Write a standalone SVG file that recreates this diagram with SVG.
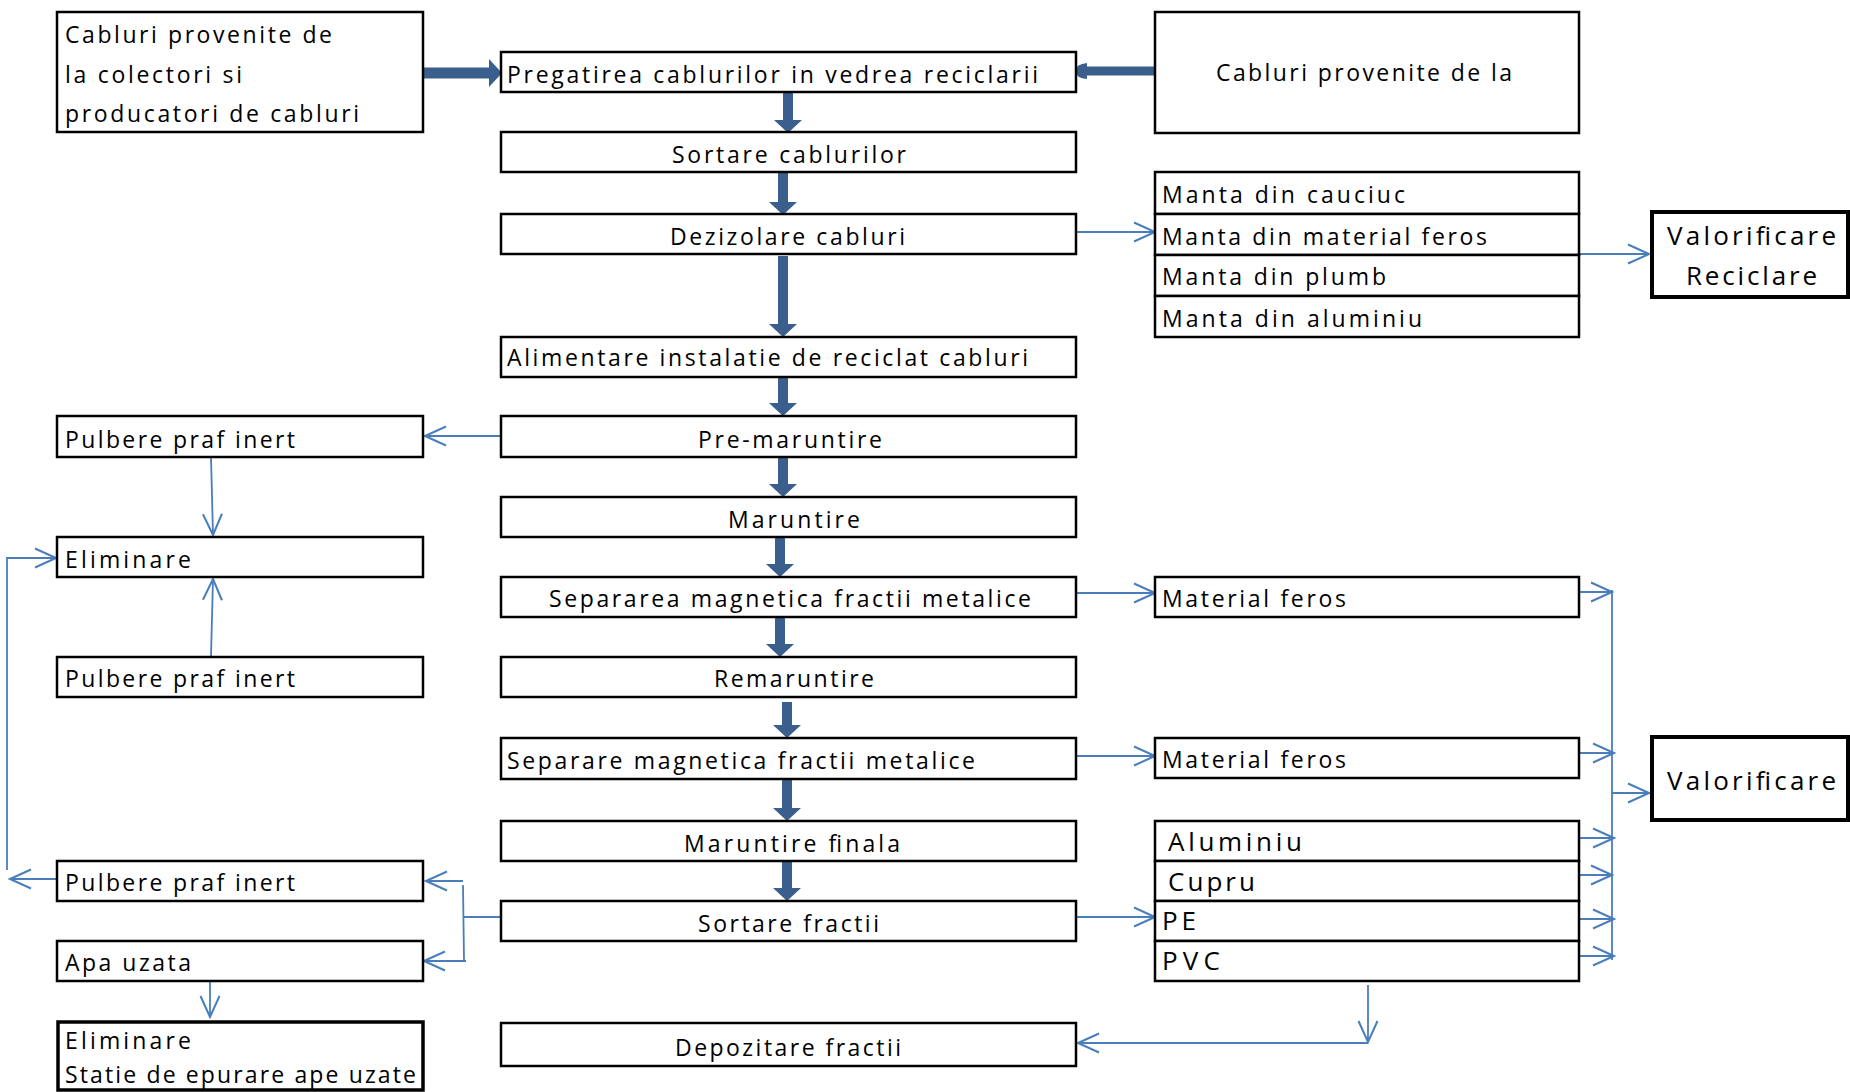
<svg xmlns="http://www.w3.org/2000/svg" width="1850" height="1092" viewBox="0 0 1850 1092">
<style>
.box{fill:#fff;stroke:#000;stroke-width:2.5}
.bold{fill:#fff;stroke:#000;stroke-width:4}
.thk{fill:#fff;stroke:#000;stroke-width:3.5}
.t{font-family:"Open Sans","Liberation Sans",sans-serif;font-size:23px;fill:#000}
.tl{font-family:"Open Sans","Liberation Sans",sans-serif;font-size:26px;fill:#000}
.thin{fill:none;stroke:#4A7EBB;stroke-width:1.8}
.fat{fill:none;stroke:#3A5F8D;stroke-width:10}
</style>
<defs>
<marker id="open" markerUnits="userSpaceOnUse" viewBox="0 0 24 22" markerWidth="24" markerHeight="22" refX="22" refY="11" orient="auto">
<path d="M1,1.5 L22,11 L1,20.5" fill="none" stroke="#4A7EBB" stroke-width="2"/>
</marker>
<marker id="fathead" markerUnits="userSpaceOnUse" viewBox="0 0 13 28" markerWidth="13" markerHeight="28" refX="0" refY="14" orient="auto">
<path d="M0,0 L13,14 L0,28 Z" fill="#3A5F8D"/>
</marker>
</defs>
<rect width="1850" height="1092" fill="#fff"/>

<g id="connectors">
<line class="fat" x1="422" y1="73" x2="489" y2="73" style="stroke-width:11" marker-end="url(#fathead)"/>
<line x1="1156" y1="71" x2="1086" y2="71" stroke="#3A5F8D" stroke-width="9" stroke-linecap="round"/>
<path d="M1087,63 Q1076,64 1075,71 Q1076,78 1087,79 Z" fill="#3A5F8D"/>
<line class="fat" x1="788" y1="92" x2="788" y2="120" marker-end="url(#fathead)"/>
<line class="fat" x1="783" y1="172" x2="783" y2="202" marker-end="url(#fathead)"/>
<line class="fat" x1="783" y1="256" x2="783" y2="324" marker-end="url(#fathead)"/>
<line class="fat" x1="783" y1="377" x2="783" y2="403" marker-end="url(#fathead)"/>
<line class="fat" x1="783" y1="457" x2="783" y2="484" marker-end="url(#fathead)"/>
<line class="fat" x1="780" y1="537" x2="780" y2="564" marker-end="url(#fathead)"/>
<line class="fat" x1="780" y1="617" x2="780" y2="644" marker-end="url(#fathead)"/>
<line class="fat" x1="787" y1="702" x2="787" y2="725" marker-end="url(#fathead)"/>
<line class="fat" x1="787" y1="779" x2="787" y2="808" marker-end="url(#fathead)"/>
<line class="fat" x1="787" y1="861" x2="787" y2="888" marker-end="url(#fathead)"/>

<line class="thin" x1="1076" y1="232" x2="1155" y2="232" marker-end="url(#open)"/>
<line class="thin" x1="1579" y1="254" x2="1649" y2="254" marker-end="url(#open)"/>
<line class="thin" x1="501" y1="436" x2="425" y2="436" marker-end="url(#open)"/>
<line class="thin" x1="211" y1="457" x2="213" y2="535" marker-end="url(#open)"/>
<line class="thin" x1="211" y1="656" x2="213" y2="579" marker-end="url(#open)"/>
<line class="thin" x1="57" y1="879" x2="10" y2="879" marker-end="url(#open)"/>
<polyline class="thin" points="7,870 7,558 56,558" marker-end="url(#open)"/>
<line class="thin" x1="503" y1="917" x2="463" y2="917"/>
<line class="thin" x1="463" y1="885" x2="464" y2="961"/>
<line class="thin" x1="463" y1="881" x2="426" y2="881" marker-end="url(#open)"/>
<line class="thin" x1="466" y1="961" x2="424" y2="961" marker-end="url(#open)"/>
<line class="thin" x1="210" y1="981" x2="210" y2="1017" marker-end="url(#open)"/>
<line class="thin" x1="1076" y1="593" x2="1155" y2="593" marker-end="url(#open)"/>
<line class="thin" x1="1076" y1="756" x2="1155" y2="756" marker-end="url(#open)"/>
<line class="thin" x1="1076" y1="917" x2="1155" y2="917" marker-end="url(#open)"/>
<line class="thin" x1="1575" y1="592" x2="1612" y2="592" marker-end="url(#open)"/>
<line class="thin" x1="1612" y1="590" x2="1612" y2="960"/>
<line class="thin" x1="1579" y1="753" x2="1614" y2="753" marker-end="url(#open)"/>
<line class="thin" x1="1612" y1="793" x2="1649" y2="793" marker-end="url(#open)"/>
<line class="thin" x1="1579" y1="838" x2="1614" y2="838" marker-end="url(#open)"/>
<line class="thin" x1="1577" y1="875" x2="1612" y2="875" marker-end="url(#open)"/>
<line class="thin" x1="1579" y1="919" x2="1614" y2="919" marker-end="url(#open)"/>
<line class="thin" x1="1579" y1="956" x2="1614" y2="956" marker-end="url(#open)"/>
<line class="thin" x1="1368" y1="985" x2="1368" y2="1042" marker-end="url(#open)"/>
<line class="thin" x1="1368" y1="1043" x2="1078" y2="1043" marker-end="url(#open)"/>
</g>

<g id="src-colectori">
<rect class="box" x="57" y="12" width="366" height="120"/>
<text class="t" x="65" y="43" textLength="267" lengthAdjust="spacing">Cabluri provenite de</text>
<text class="t" x="65" y="83" textLength="177" lengthAdjust="spacing">la colectori si</text>
<text class="t" x="65" y="122" textLength="294" lengthAdjust="spacing">producatori de cabluri</text>
</g>
<g id="pregatirea">
<rect class="box" x="501" y="52" width="575" height="40"/>
<text class="t" x="507" y="83" textLength="531" lengthAdjust="spacing">Pregatirea cablurilor in vedrea reciclarii</text>
</g>
<g id="src-la">
<rect class="box" x="1155" y="12" width="424" height="121"/>
<text class="t" x="1216" y="81" textLength="296" lengthAdjust="spacing">Cabluri provenite de la</text>
</g>
<g id="sortare-cablurilor">
<rect class="box" x="501" y="132" width="575" height="40"/>
<text class="t" x="672" y="163" textLength="234" lengthAdjust="spacing">Sortare cablurilor</text>
</g>
<g id="dezizolare">
<rect class="box" x="501" y="214" width="575" height="40"/>
<text class="t" x="670" y="245" textLength="235" lengthAdjust="spacing">Dezizolare cabluri</text>
</g>
<g id="manta">
<rect class="box" x="1155" y="172" width="424" height="42"/>
<rect class="box" x="1155" y="214" width="424" height="41"/>
<rect class="box" x="1155" y="255" width="424" height="41"/>
<rect class="box" x="1155" y="296" width="424" height="41"/>
<text class="t" x="1162" y="203" textLength="243" lengthAdjust="spacing">Manta din cauciuc</text>
<text class="t" x="1162" y="245" textLength="325" lengthAdjust="spacing">Manta din material feros</text>
<text class="t" x="1162" y="285" textLength="224" lengthAdjust="spacing">Manta din plumb</text>
<text class="t" x="1162" y="327" textLength="260" lengthAdjust="spacing">Manta din aluminiu</text>
</g>
<g id="valorificare-reciclare">
<rect class="bold" x="1652" y="212" width="196" height="85"/>
<text class="tl" x="1667" y="245" textLength="169" lengthAdjust="spacing">Valorificare</text>
<text class="tl" x="1686" y="285" textLength="131" lengthAdjust="spacing">Reciclare</text>
</g>
<g id="alimentare">
<rect class="box" x="501" y="337" width="575" height="40"/>
<text class="t" x="507" y="366" textLength="521" lengthAdjust="spacing">Alimentare instalatie de reciclat cabluri</text>
</g>
<g id="pre-maruntire">
<rect class="box" x="501" y="416" width="575" height="41"/>
<text class="t" x="698" y="448" textLength="184" lengthAdjust="spacing">Pre-maruntire</text>
</g>
<g id="pulbere-1">
<rect class="box" x="57" y="416" width="366" height="41"/>
<text class="t" x="65" y="448" textLength="230" lengthAdjust="spacing">Pulbere praf inert</text>
</g>
<g id="maruntire">
<rect class="box" x="501" y="497" width="575" height="40"/>
<text class="t" x="728" y="528" textLength="132" lengthAdjust="spacing">Maruntire</text>
</g>
<g id="eliminare">
<rect class="box" x="57" y="537" width="366" height="40"/>
<text class="t" x="65" y="568" textLength="126" lengthAdjust="spacing">Eliminare</text>
</g>
<g id="separarea">
<rect class="box" x="501" y="577" width="575" height="40"/>
<text class="t" x="549" y="607" textLength="482" lengthAdjust="spacing">Separarea magnetica fractii metalice</text>
</g>
<g id="material-feros-1">
<rect class="box" x="1155" y="577" width="424" height="40"/>
<text class="t" x="1162" y="607" textLength="184" lengthAdjust="spacing">Material feros</text>
</g>
<g id="pulbere-2">
<rect class="box" x="57" y="657" width="366" height="40"/>
<text class="t" x="65" y="687" textLength="230" lengthAdjust="spacing">Pulbere praf inert</text>
</g>
<g id="remaruntire">
<rect class="box" x="501" y="657" width="575" height="40"/>
<text class="t" x="714" y="687" textLength="160" lengthAdjust="spacing">Remaruntire</text>
</g>
<g id="separare">
<rect class="box" x="501" y="738" width="575" height="41"/>
<text class="t" x="507" y="769" textLength="468" lengthAdjust="spacing">Separare magnetica fractii metalice</text>
</g>
<g id="material-feros-2">
<rect class="box" x="1155" y="738" width="424" height="40"/>
<text class="t" x="1162" y="768" textLength="184" lengthAdjust="spacing">Material feros</text>
</g>
<g id="valorificare">
<rect class="bold" x="1652" y="737" width="196" height="83"/>
<text class="tl" x="1667" y="790" textLength="169" lengthAdjust="spacing">Valorificare</text>
</g>
<g id="maruntire-finala">
<rect class="box" x="501" y="821" width="575" height="40"/>
<text class="t" x="684" y="852" textLength="216" lengthAdjust="spacing">Maruntire finala</text>
</g>
<g id="fractii">
<rect class="box" x="1155" y="821" width="424" height="40"/>
<rect class="box" x="1155" y="861" width="424" height="40"/>
<rect class="box" x="1155" y="901" width="424" height="40"/>
<rect class="box" x="1155" y="941" width="424" height="40"/>
<text class="tl" x="1168" y="851" textLength="134" lengthAdjust="spacing">Aluminiu</text>
<text class="tl" x="1168" y="891" textLength="87" lengthAdjust="spacing">Cupru</text>
<text class="tl" x="1162" y="930" textLength="34" lengthAdjust="spacing">PE</text>
<text class="tl" x="1162" y="970" textLength="58" lengthAdjust="spacing">PVC</text>
</g>
<g id="pulbere-3">
<rect class="box" x="57" y="861" width="366" height="40"/>
<text class="t" x="65" y="891" textLength="230" lengthAdjust="spacing">Pulbere praf inert</text>
</g>
<g id="sortare-fractii">
<rect class="box" x="501" y="901" width="575" height="40"/>
<text class="t" x="698" y="932" textLength="181" lengthAdjust="spacing">Sortare fractii</text>
</g>
<g id="apa-uzata">
<rect class="box" x="57" y="941" width="366" height="40"/>
<text class="t" x="65" y="971" textLength="126" lengthAdjust="spacing">Apa uzata</text>
</g>
<g id="eliminare-statie">
<rect class="thk" x="58" y="1022" width="365" height="68"/>
<text class="t" x="65" y="1049" textLength="126" lengthAdjust="spacing">Eliminare</text>
<text class="t" x="65" y="1083" textLength="351" lengthAdjust="spacing">Statie de epurare ape uzate</text>
</g>
<g id="depozitare">
<rect class="box" x="501" y="1023" width="575" height="43"/>
<text class="t" x="675" y="1056" textLength="226" lengthAdjust="spacing">Depozitare fractii</text>
</g>
</svg>
